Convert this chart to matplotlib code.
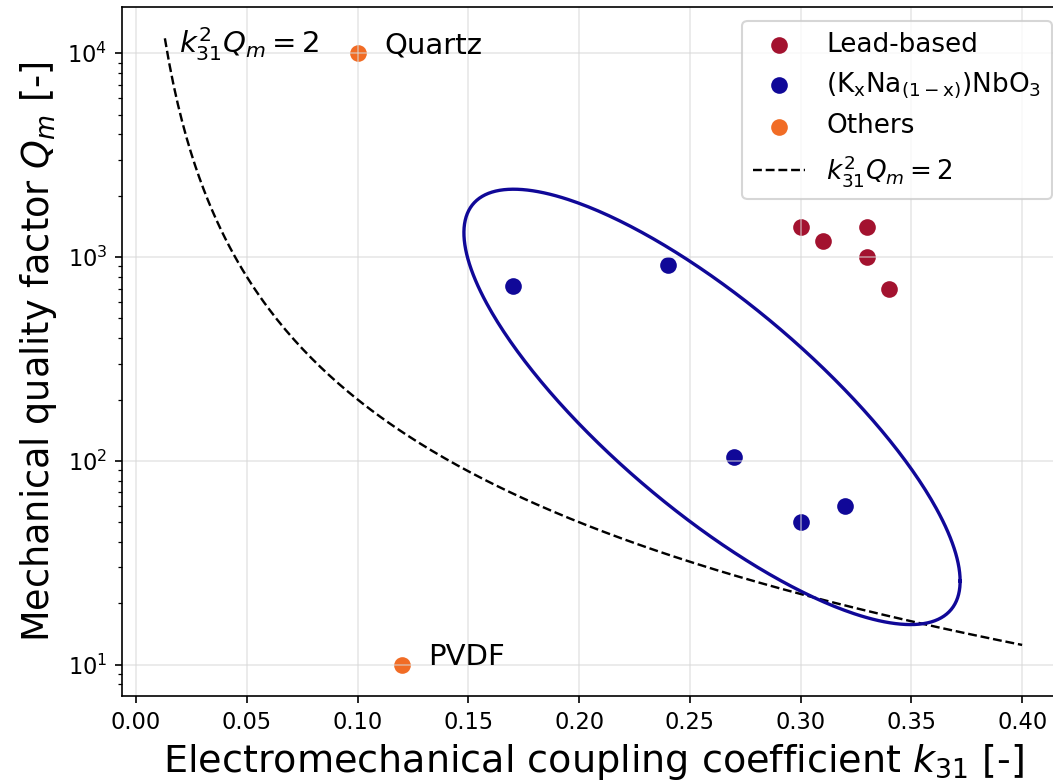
import numpy as np
import matplotlib
matplotlib.use("Agg")
import matplotlib.pyplot as plt

# data
lead_k = [0.30, 0.31, 0.33, 0.33, 0.34]
lead_q = [1400, 1200, 1400, 1000, 700]

knn_k = [0.17, 0.24, 0.27, 0.30, 0.32]
knn_q = [720, 910, 104, 50, 60]

other_k = [0.10, 0.12]
other_q = [10000, 10]
other_names = ["Quartz", "PVDF"]

# k^2 Q = 2 limit curve
k_start, k_end = 0.013, 0.40
limit_value = 2

# ellipse around the KNN group (x in k, y in log10 Q)
ell_center = (0.26, 184)
ell_half_k = 0.112
ell_half_decades = 1.068
ell_corr = -0.80

c_lead = "#a3122f"
c_knn = "#100898"
c_other = "#f16c25"

fig = plt.figure(figsize=(1053 / 150, 784 / 150), dpi=150)
ax = fig.add_axes([122 / 1053, 88 / 784, (1065 - 122) / 1053, (777 - 88) / 784])

# scatter stays below the grid (default zorder), like the original
ax.scatter(lead_k, lead_q, s=64, color=c_lead, lw=0, label="Lead-based")
ax.scatter(knn_k, knn_q, s=64, color=c_knn, lw=0,
           label=r"(K$_\mathrm{x}$Na$_{\mathrm{(1-x)}}$)NbO$_3$")
ax.scatter(other_k, other_q, s=64, color=c_other, lw=0, label="Others")

k = np.linspace(k_start, k_end, 200)
ax.plot(k, limit_value / k**2, "k--", lw=1.15, label=r"$k_{31}^2Q_m = 2$")

t = np.linspace(0, 2 * np.pi, 400)
ex = ell_center[0] + ell_half_k * np.cos(t)
ey = np.log10(ell_center[1]) + ell_half_decades * (ell_corr * np.cos(t) + np.sqrt(1 - ell_corr**2) * np.sin(t))
ax.plot(ex, 10**ey, color=c_knn, lw=1.6)

for kk, qq, name in zip(other_k, other_q, other_names):
    ax.text(kk + 0.012, qq, name, fontsize=14, va="baseline")
ax.text(0.0195, 10000, r"$k_{31}^2Q_m = 2$", fontsize=14, va="baseline")

ax.set_yscale("log")
ax.set_xticks(np.arange(0, 0.401, 0.05))
ax.tick_params(axis="both", labelsize=10.8)
ax.grid(True, which="major", color="#d8d8d8", lw=0.8, alpha=0.6)

ax.set_xlabel(r"Electromechanical coupling coefficient $k_{31}$ [-]", fontsize=18.3)
ax.set_ylabel(r"Mechanical quality factor $Q_m$ [-]", fontsize=17.6)
ax.legend(loc="upper right", fontsize=12.6, bbox_to_anchor=(1052 / 1053, 763 / 784),
          bbox_transform=fig.transFigure, borderaxespad=0)

fig.savefig("out.png", dpi=150)
